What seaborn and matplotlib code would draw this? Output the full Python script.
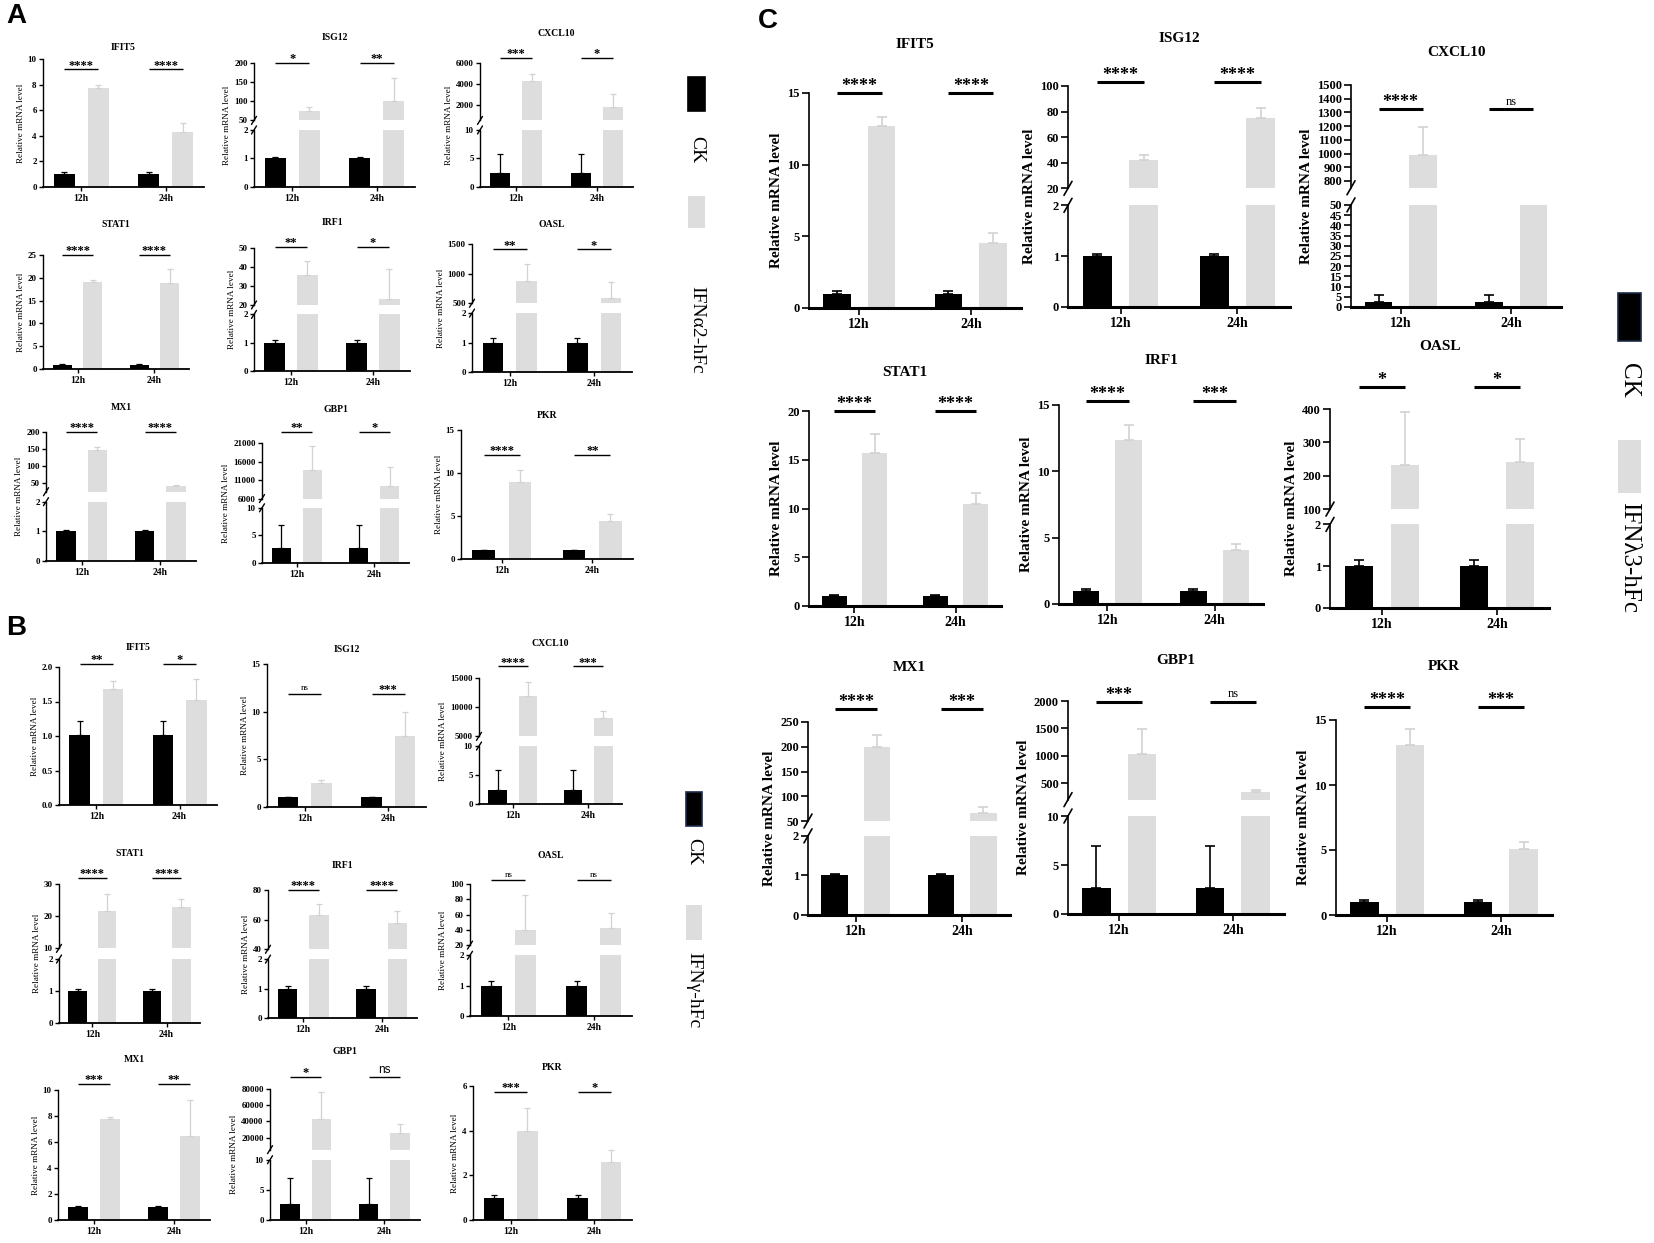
import pandas as pd
import seaborn as sns
import matplotlib
matplotlib.use("Agg")
import matplotlib.pyplot as plt
from matplotlib.patches import Rectangle

W, H = 1654, 1243

times = ["12h", "24h"]
groups = ["CK", "IFN"]
genes = ["IFIT5", "ISG12", "CXCL10", "STAT1", "IRF1", "OASL", "MX1", "GBP1", "PKR"]

# ---- panel A : IFNa2-hFc ----
a_ck = [[1.0, 1.0], [1.0, 1.0], [2.4, 2.4], [0.9, 0.9], [1.0, 1.0], [1.0, 1.0], [1.0, 1.0], [2.7, 2.7], [1.0, 1.0]]
a_ck_sd = [[0.2, 0.2], [0.04, 0.04], [3.4, 3.4], [0.1, 0.1], [0.08, 0.08], [0.15, 0.15], [0.04, 0.04], [4.2, 4.2], [0.1, 0.1]]
a_ifn = [[7.7, 4.3], [75, 102], [4250, 1800], [19.1, 18.8], [35.8, 23.2], [873, 582], [148, 43], [13700, 9450], [9.0, 4.4]]
a_ifn_sd = [[0.27, 0.7], [10, 60], [750, 1250], [0.5, 3.1], [7.4, 15.7], [285, 285], [9, 3], [6400, 5000], [1.35, 0.86]]
a_sig = [["****", "****"], ["*", "**"], ["***", "*"], ["****", "****"], ["**", "*"],
         ["**", "*"], ["****", "****"], ["**", "*"], ["****", "**"]]

# ---- panel B : IFNg-hFc ----
b_ck = [[1.01, 1.01], [1.0, 1.0], [2.4, 2.4], [1.0, 1.0], [1.0, 1.0], [1.0, 1.0], [1.0, 1.0], [2.7, 2.7], [1.0, 1.0]]
b_ck_sd = [[0.21, 0.21], [0.03, 0.03], [3.4, 3.4], [0.07, 0.07], [0.07, 0.07], [0.15, 0.15], [0.05, 0.05], [4.2, 4.2], [0.12, 0.12]]
b_ifn = [[1.68, 1.52], [2.5, 7.5], [11900, 8100], [21.7, 22.8], [63, 57.5], [40, 42.6], [7.75, 6.45], [43000, 26000], [4.0, 2.6]]
b_ifn_sd = [[0.11, 0.3], [0.35, 2.5], [2500, 1200], [5.2, 2.4], [7.3, 8], [45, 20], [0.15, 2.8], [33000, 10300], [1.0, 0.53]]
b_sig = [["**", "*"], ["ns", "***"], ["****", "***"], ["****", "****"], ["****", "****"],
         ["ns", "ns"], ["***", "**"], ["*", "ns"], ["***", "*"]]

# ---- panel C : IFNl3-hFc ----
c_ck = [[1.0, 1.0], [1.0, 1.0], [2.4, 2.4], [1.0, 1.0], [1.0, 1.0], [1.0, 1.0], [1.0, 1.0], [2.7, 2.7], [1.0, 1.0]]
c_ck_sd = [[0.2, 0.2], [0.04, 0.04], [3.5, 3.5], [0.1, 0.1], [0.1, 0.1], [0.15, 0.15], [0.04, 0.04], [4.2, 4.2], [0.12, 0.12]]
c_ifn = [[12.7, 4.5], [42, 75], [990, 300], [15.65, 10.45], [12.35, 4.1], [233, 240], [200, 67], [1040, 330], [13.1, 5.05]]
c_ifn_sd = [[0.6, 0.7], [4, 8], [200, 40], [2.0, 1.15], [1.15, 0.4], [157, 70], [23, 11], [450, 40], [1.2, 0.55]]
c_sig = [["****", "****"], ["****", "****"], ["****", "ns"], ["****", "****"], ["****", "***"],
         ["*", "*"], ["****", "***"], ["***", "ns"], ["****", "***"]]

# ---- y axes (lower segment, optional upper segment after the break) ----
a_axes = [
    dict(lim=(0, 10), ticks=[0, 2, 4, 6, 8, 10]),
    dict(lim=(0, 2), ticks=[0, 1, 2], hi=(50, 200), hi_ticks=[50, 100, 150, 200]),
    dict(lim=(0, 10), ticks=[0, 5, 10], hi=(550, 6000), hi_ticks=[2000, 4000, 6000]),
    dict(lim=(0, 25), ticks=[0, 5, 10, 15, 20, 25]),
    dict(lim=(0, 2), ticks=[0, 1, 2], hi=(20, 50), hi_ticks=[20, 30, 40, 50]),
    dict(lim=(0, 2), ticks=[0, 1, 2], hi=(500, 1500), hi_ticks=[500, 1000, 1500]),
    dict(lim=(0, 2), ticks=[0, 1, 2], hi=(25, 200), hi_ticks=[50, 100, 150, 200]),
    dict(lim=(0, 10), ticks=[0, 5, 10], hi=(6000, 21000), hi_ticks=[6000, 11000, 16000, 21000]),
    dict(lim=(0, 15), ticks=[0, 5, 10, 15]),
]
b_axes = [
    dict(lim=(0, 2), ticks=[0, 0.5, 1.0, 1.5, 2.0]),
    dict(lim=(0, 15), ticks=[0, 5, 10, 15]),
    dict(lim=(0, 10), ticks=[0, 5, 10], hi=(5000, 15000), hi_ticks=[5000, 10000, 15000]),
    dict(lim=(0, 2), ticks=[0, 1, 2], hi=(10, 30), hi_ticks=[10, 20, 30]),
    dict(lim=(0, 2), ticks=[0, 1, 2], hi=(40, 80), hi_ticks=[40, 60, 80]),
    dict(lim=(0, 2), ticks=[0, 1, 2], hi=(20, 100), hi_ticks=[20, 40, 60, 80, 100]),
    dict(lim=(0, 10), ticks=[0, 2, 4, 6, 8, 10]),
    dict(lim=(0, 10), ticks=[0, 5, 10], hi=(5000, 80000), hi_ticks=[20000, 40000, 60000, 80000]),
    dict(lim=(0, 6), ticks=[0, 2, 4, 6]),
]
c_axes = [
    dict(lim=(0, 15), ticks=[0, 5, 10, 15]),
    dict(lim=(0, 2), ticks=[0, 1, 2], hi=(20, 100), hi_ticks=[20, 40, 60, 80, 100]),
    dict(lim=(0, 50), ticks=list(range(0, 51, 5)), hi=(750, 1500), hi_ticks=list(range(800, 1501, 100))),
    dict(lim=(0, 20), ticks=[0, 5, 10, 15, 20]),
    dict(lim=(0, 15), ticks=[0, 5, 10, 15]),
    dict(lim=(0, 2), ticks=[0, 1, 2], hi=(100, 400), hi_ticks=[100, 200, 300, 400], frac=0.42),
    dict(lim=(0, 2), ticks=[0, 1, 2], hi=(50, 250), hi_ticks=[50, 100, 150, 200, 250], frac=0.41),
    dict(lim=(0, 10), ticks=[0, 5, 10], hi=(200, 2000), hi_ticks=[500, 1000, 1500, 2000]),
    dict(lim=(0, 15), ticks=[0, 5, 10, 15]),
]
a_sig_y = [9.2, 201, 6500, 25, 50.5, 1410, 200, 24000, 12.1]
b_sig_y = [2.05, 11.9, 17000, 32, 80, 105, 10.5, 95000, 5.73]
c_sig_y = [15, 103, 1322, 20, 15.3, 466, 277, 1980, 16]

# axes boxes in pixels: left, right, top tick, x axis, title y
a_boxes = [(43, 204, 59, 187, 47), (254, 415, 63, 187, 38), (480, 633, 63, 187, 34),
           (43, 189, 255, 369, 224), (254, 410, 248, 371, 222), (472, 632, 244, 372, 224),
           (46, 196, 432, 561, 407), (262, 409, 443, 563, 409), (461, 633, 430, 559, 415)]
b_boxes = [(59, 217, 667, 805, 648), (267, 426, 664, 807, 650), (479, 622, 678, 804, 644),
           (59, 200, 884, 1023, 853), (268, 417, 890, 1018, 866), (470, 632, 884, 1016, 855),
           (58, 210, 1090, 1220, 1060), (270, 420, 1089, 1220, 1052), (473, 632, 1086, 1220, 1068)]
c_boxes = [(809, 1021, 93, 308, 45), (1068, 1290, 86, 307, 38), (1351, 1561, 85, 307, 52),
           (809, 1001, 411, 606, 373), (1059, 1263, 405, 604, 360), (1330, 1549, 409, 608, 346),
           (808, 1010, 722, 915, 668), (1068, 1284, 701, 914, 660), (1336, 1552, 720, 915, 667)]

SMALL = dict(tick_fs=6.5, title_fs=7, ylab_fs=6.6, ylab_w="normal", xlab_fs=7, sig_fs=9, ns_fs=6.5,
             sig_pad=0.5, spine_lw=1.0, xspine_lw=1.3, tick_len=3, sig_lw=1.0, cap=2.2, elw=0.9,
             brk=(2.5, 4), labelpad=2)
LARGE = dict(tick_fs=9, title_fs=11, ylab_fs=11, ylab_w="bold", xlab_fs=10, sig_fs=13, ns_fs=9,
             sig_pad=1.5, spine_lw=1.2, xspine_lw=2.2, tick_len=5, sig_lw=2.2, cap=3.5, elw=1.2,
             brk=(4, 7), labelpad=3)

BLACK = "black"
GRAY = "#dddddd"
EGRAY = "#d2d2d2"

sns.set_theme(style="ticks", rc={"axes.edgecolor": "black", "xtick.color": "black",
                                 "ytick.color": "black", "text.color": "black",
                                 "axes.labelcolor": "black"})
plt.rcParams["font.family"] = ["Liberation Serif", "DejaVu Serif"]
plt.rcParams["font.weight"] = "bold"

fig = plt.figure(figsize=(W / 100, H / 100), dpi=100)


def yticks(ax, ticks, st):
    dec = any(float(t) != int(t) for t in ticks)
    ax.set_yticks(ticks, labels=[f"{t:.1f}" if dec else f"{int(t)}" for t in ticks])
    ax.tick_params(axis="y", direction="out", length=st["tick_len"], width=st["spine_lw"],
                   labelsize=st["tick_fs"], pad=1.5)
    ax.spines["left"].set_linewidth(st["spine_lw"])


def slash(ax, y, st):
    bb = ax.get_position()
    dx = st["brk"][0] / (bb.width * W)
    dy = st["brk"][1] / (bb.height * H)
    ax.plot([-dx, dx], [y - dy, y + dy], transform=ax.transAxes, color="black",
            lw=st["spine_lw"], clip_on=False)


def panel(box, gene, ck, ck_sd, ifn, ifn_sd, sig, spec, sig_y, st, ns_family=None):
    L, R, top, bot, ty = box
    x0, w = L / W, (R - L) / W
    y0, h = 1 - bot / H, (bot - top) / H
    df = pd.DataFrame({"time": times * 2, "group": ["CK"] * 2 + ["IFN"] * 2, "value": ck + ifn})
    errs = [ck_sd[0], ifn_sd[0], ck_sd[1], ifn_sd[1]]
    ecols = [BLACK, EGRAY, BLACK, EGRAY]

    if "hi" in spec:
        frac, gap = spec.get("frac", 0.46), 0.077
        lo = fig.add_axes([x0, y0, w, h * frac])
        hi = fig.add_axes([x0, y0 + h * (frac + gap), w, h * (1 - frac - gap)])
        axes = [lo, hi]
    else:
        lo = hi = fig.add_axes([x0, y0, w, h])
        axes = [lo]

    for ax in axes:
        sns.barplot(data=df, x="time", y="value", hue="group", order=times, hue_order=groups,
                    palette={"CK": BLACK, "IFN": GRAY}, errorbar=None, width=0.8, gap=0.38,
                    saturation=1, linewidth=0, legend=False, ax=ax)
        bars = sorted(ax.patches, key=lambda p: p.get_x())
        for p, e, c in zip(bars, errs, ecols):
            ax.errorbar(p.get_x() + p.get_width() / 2, p.get_height(), yerr=[[0], [e]], fmt="none",
                        ecolor=c, elinewidth=st["elw"], capsize=st["cap"], capthick=st["elw"])
        ax.set_xlim(-0.45, 1.45)
        ax.set_xlabel("")
        ax.set_ylabel("")
        sns.despine(ax=ax)

    lo.set_ylim(*spec["lim"])
    yticks(lo, spec["ticks"], st)
    lo.tick_params(axis="x", direction="out", length=st["tick_len"], width=st["spine_lw"],
                   labelsize=st["xlab_fs"], pad=2)
    lo.spines["bottom"].set_linewidth(st["xspine_lw"])

    if hi is not lo:
        hi.set_ylim(*spec["hi"])
        yticks(hi, spec["hi_ticks"], st)
        hi.spines["bottom"].set_visible(False)
        hi.tick_params(axis="x", bottom=False, labelbottom=False)
        slash(lo, 1, st)
        slash(hi, 0, st)
        bb = hi.get_position()
        yc = (y0 + h / 2 - bb.y0) / bb.height
    else:
        yc = 0.5
    hi.set_ylabel("Relative mRNA level", y=yc, fontsize=st["ylab_fs"], fontweight=st["ylab_w"],
                  labelpad=st["labelpad"])

    for i, s in enumerate(sig):
        hi.plot([i - 0.2, i + 0.2], [sig_y, sig_y], color="black", lw=st["sig_lw"],
                clip_on=False, solid_capstyle="butt")
        if s == "ns":
            kw = dict(fontsize=st["ns_fs"], fontweight="normal")
            if ns_family and i == 1:
                kw = dict(fontsize=st["ns_fs"] + 2, fontweight="normal", family=ns_family)
        else:
            kw = dict(fontsize=st["sig_fs"], fontweight="bold")
        hi.annotate(s, (i, sig_y), xytext=(0, st["sig_pad"] + (2 if s == "ns" else 0)),
                    textcoords="offset points", ha="center", va="baseline",
                    annotation_clip=False, **kw)

    fig.text((L + R) / 2 / W, 1 - ty / H, gene, ha="center", va="center",
             fontsize=st["title_fs"], fontweight="bold")


def legend(x, w, blocks, labels, fs, edge):
    (b0, b1), (g0, g1) = blocks
    fig.add_artist(Rectangle((x / W, 1 - b1 / H), w / W, (b1 - b0) / H, transform=fig.transFigure,
                             facecolor="black", edgecolor=edge, linewidth=1.2))
    fig.add_artist(Rectangle((x / W, 1 - g1 / H), w / W, (g1 - g0) / H, transform=fig.transFigure,
                             facecolor=GRAY, edgecolor="none"))
    for yc, t in labels:
        fig.text((x + w / 2) / W, 1 - yc / H, t, rotation=270, ha="center", va="center",
                 fontsize=fs, fontweight="normal")


for k in range(9):
    panel(a_boxes[k], genes[k], a_ck[k], a_ck_sd[k], a_ifn[k], a_ifn_sd[k], a_sig[k],
          a_axes[k], a_sig_y[k], SMALL)
    panel(b_boxes[k], genes[k], b_ck[k], b_ck_sd[k], b_ifn[k], b_ifn_sd[k], b_sig[k],
          b_axes[k], b_sig_y[k], SMALL, ns_family="Liberation Sans" if genes[k] == "GBP1" else None)
    panel(c_boxes[k], genes[k], c_ck[k], c_ck_sd[k], c_ifn[k], c_ifn_sd[k], c_sig[k],
          c_axes[k], c_sig_y[k], LARGE)

legend(688, 17, [(77, 111), (196, 228)], [(150, "CK"), (330, "IFNα2-hFc")], 14, "black")
legend(686, 16, [(792, 826), (905, 940)], [(852, "CK"), (990, "IFNγ-hFc")], 14, "#1c2a48")
legend(1618, 23, [(293, 341), (440, 493)], [(380, "CK"), (557, "IFNλ3-hFc")], 18, "#1c2a48")

for x, y, t in [(6, 16, "A"), (6, 628, "B"), (758, 21, "C")]:
    fig.text(x / W, 1 - y / H, t, ha="left", va="center", fontsize=20, fontweight="bold",
             family="Liberation Sans")

fig.savefig("out.png", dpi=100, facecolor="white")
